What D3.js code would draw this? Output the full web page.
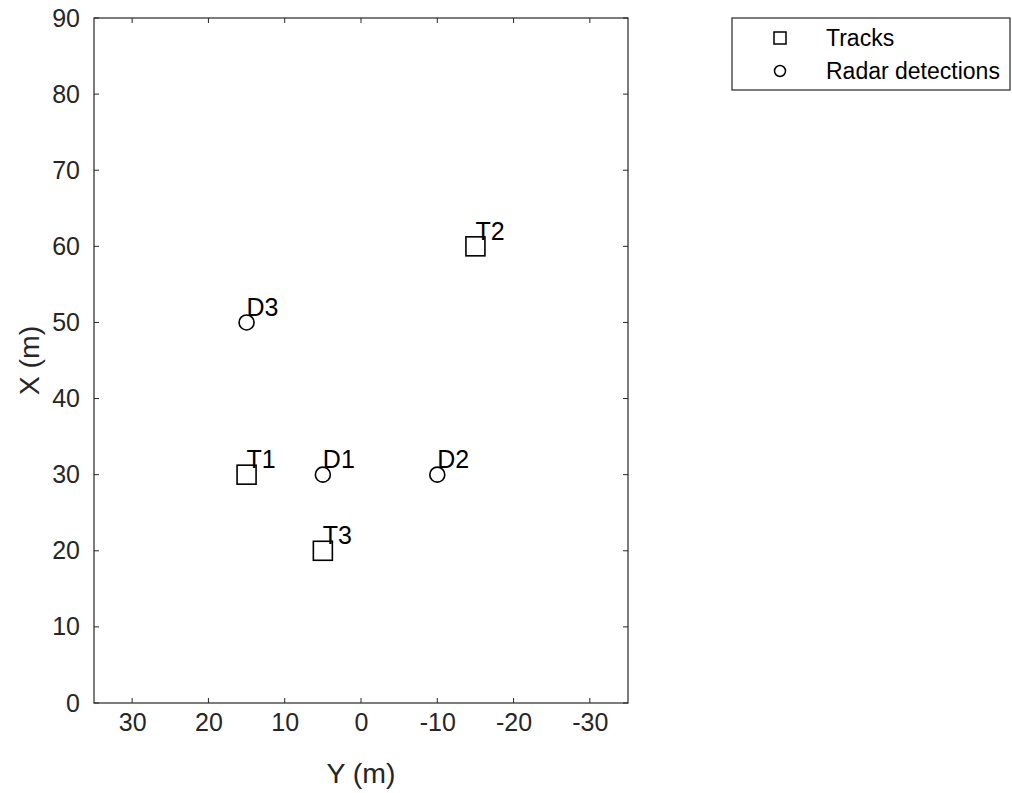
<!DOCTYPE html>
<html>
<head>
<meta charset="utf-8">
<script src="https://cdn.jsdelivr.net/npm/d3@7"></script>
<style>
  html, body { margin: 0; padding: 0; background: #fff; }
  svg { display: block; font-family: "Liberation Sans", Arial, sans-serif; }
</style>
</head>
<body>
<svg id="chart" width="1012" height="793"></svg>
<script>
// ---- data ----
const trackNames = ["T1", "T2", "T3"];
const trackY = [15, -15, 5];       // horizontal axis: Y (m)
const trackX = [30, 60, 20];       // vertical axis: X (m)
const detNames = ["D1", "D2", "D3"];
const detY = [5, -10, 15];
const detX = [30, 30, 50];
const xTickValues = [30, 20, 10, 0, -10, -20, -30];
const yTickValues = [0, 10, 20, 30, 40, 50, 60, 70, 80, 90];
const legendLabels = ["Tracks", "Radar detections"];
const labelOffset = 2; // text placed 2 m above each marker

(function () {
// ---- layout ----
const svg = d3.select("#chart");
const pL = 94, pR = 628, pT = 18, pB = 703;
const axisColor = "#262626";
const S = 25; // base font size
const fmt = d => String(d); // plain hyphen-minus like the reference

const x = d3.scaleLinear().domain([35, -35]).range([pL, pR]);
const y = d3.scaleLinear().domain([0, 90]).range([pB, pT]);

const g = svg.append("g");

// frame
g.append("rect")
  .attr("x", pL).attr("y", pT)
  .attr("width", pR - pL).attr("height", pB - pT)
  .attr("fill", "none").attr("stroke", axisColor).attr("stroke-width", 1.2);

const tickLen = 5;
// bottom tick labels
const bAxis = d3.axisBottom(x).tickValues(xTickValues).tickSize(0).tickPadding(0).tickFormat(fmt);
const bx = g.append("g").attr("transform", `translate(0,${pB})`).call(bAxis);
bx.select(".domain").remove();
bx.selectAll(".tick text").attr("dy", null).attr("y", 28).attr("font-size", S).attr("fill", axisColor)
  .attr("font-family", "Liberation Sans, Arial, sans-serif");
// left tick labels
const lAxis = d3.axisLeft(y).tickValues(yTickValues).tickSize(0).tickPadding(14).tickFormat(fmt);
const ly = g.append("g").attr("transform", `translate(${pL},0)`).call(lAxis);
ly.select(".domain").remove();
ly.selectAll(".tick text").attr("font-size", S).attr("fill", axisColor)
  .attr("font-family", "Liberation Sans, Arial, sans-serif");

// inward tick marks on all four sides
const tickG = g.append("g").attr("stroke", axisColor).attr("stroke-width", 1);
xTickValues.forEach(v => {
  tickG.append("line").attr("x1", x(v)).attr("x2", x(v)).attr("y1", pB).attr("y2", pB - tickLen);
  tickG.append("line").attr("x1", x(v)).attr("x2", x(v)).attr("y1", pT).attr("y2", pT + tickLen);
});
yTickValues.forEach(v => {
  tickG.append("line").attr("x1", pL).attr("x2", pL + tickLen).attr("y1", y(v)).attr("y2", y(v));
  tickG.append("line").attr("x1", pR).attr("x2", pR - tickLen).attr("y1", y(v)).attr("y2", y(v));
});

// axis labels
g.append("text").attr("x", (pL + pR) / 2).attr("y", 783)
  .attr("text-anchor", "middle").attr("font-size", 28.5).attr("fill", axisColor).text("Y (m)");
g.append("text").attr("transform", `translate(39,${(pT + pB) / 2}) rotate(-90)`)
  .attr("text-anchor", "middle").attr("font-size", 28.5).attr("fill", axisColor).text("X (m)");

// markers
const sq = 19, cr = 7.5;
const tracks = trackNames.map((n, i) => ({ n, yv: trackY[i], xv: trackX[i] }));
const dets = detNames.map((n, i) => ({ n, yv: detY[i], xv: detX[i] }));

g.selectAll("rect.track").data(tracks).enter().append("rect")
  .attr("class", "track")
  .attr("x", d => x(d.yv) - sq / 2).attr("y", d => y(d.xv) - sq / 2)
  .attr("width", sq).attr("height", sq)
  .attr("fill", "none").attr("stroke", "#000").attr("stroke-width", 1.6);

g.selectAll("circle.det").data(dets).enter().append("circle")
  .attr("class", "det")
  .attr("cx", d => x(d.yv)).attr("cy", d => y(d.xv)).attr("r", cr)
  .attr("fill", "none").attr("stroke", "#000").attr("stroke-width", 1.6);

// point labels
g.selectAll("text.plabel").data(tracks.concat(dets)).enter().append("text")
  .attr("class", "plabel")
  .attr("x", d => x(d.yv)).attr("y", d => y(d.xv + labelOffset))
  .attr("dy", "0.35em").attr("font-size", S).attr("fill", "#000").text(d => d.n);

// legend
const lg = svg.append("g");
lg.append("rect").attr("x", 732).attr("y", 18).attr("width", 278).attr("height", 72)
  .attr("fill", "#fff").attr("stroke", axisColor).attr("stroke-width", 1.2);
const legRows = [38, 71];
lg.append("rect").attr("x", 780 - 6).attr("y", legRows[0] - 6).attr("width", 12).attr("height", 12)
  .attr("fill", "none").attr("stroke", "#000").attr("stroke-width", 1.5);
lg.append("circle").attr("cx", 780).attr("cy", legRows[1]).attr("r", 5.5)
  .attr("fill", "none").attr("stroke", "#000").attr("stroke-width", 1.5);
lg.selectAll("text.leg").data(legendLabels).enter().append("text")
  .attr("class", "leg").attr("x", 826).attr("y", (d, i) => legRows[i]).attr("dy", "0.35em")
  .attr("font-size", 23).attr("fill", "#000").text(d => d);
})();
</script>
</body>
</html>
